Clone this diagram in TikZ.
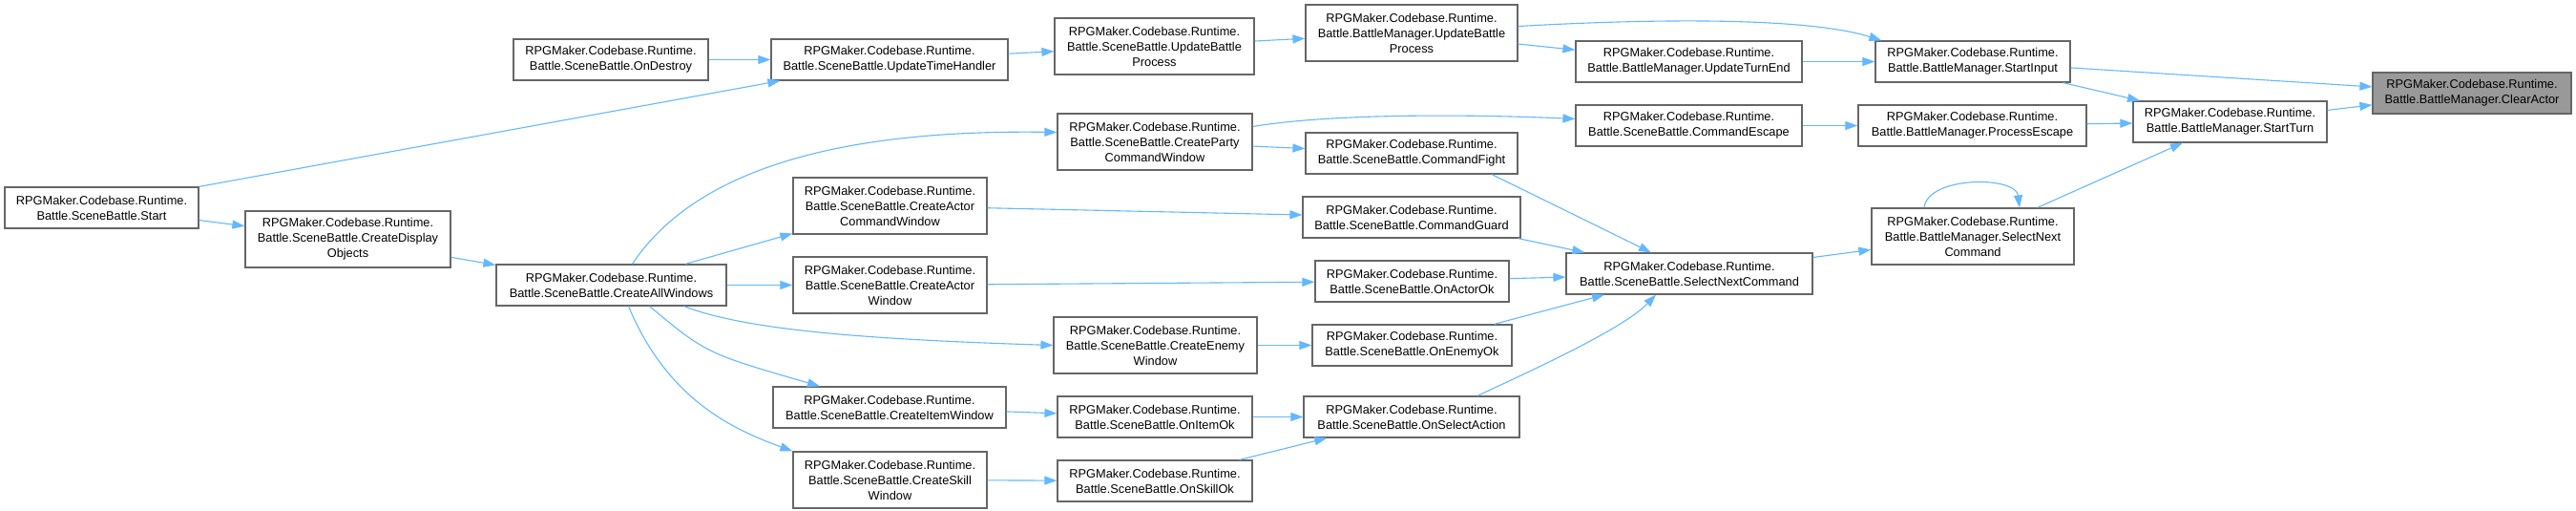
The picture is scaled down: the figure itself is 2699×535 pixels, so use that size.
\documentclass[tikz,border=0pt]{standalone}
\usepackage{fontspec}
\setmainfont{Liberation Sans}
\usetikzlibrary{arrows.meta,positioning}
\definecolor{edgeblue}{HTML}{63B8FF}
\definecolor{boxgray}{HTML}{666666}
\definecolor{rootgray}{HTML}{999999}

\begin{document}
\begin{tikzpicture}[x=1pt, y=-1pt,
    fn/.style={draw=boxgray, line width=1.2pt, fill=white, rectangle, inner sep=0pt,
        align=center, minimum height=43pt, font=\fontsize{12.8}{16}\selectfont},
    fn3/.style={fn, minimum height=59pt},
    rootfn/.style={fn, fill=rootgray},
    calledge/.style={-{Triangle[length=13pt,width=9pt]}, draw=edgeblue, line width=1.1pt}]
    \useasboundingbox (0,0) rectangle (2699,535);

    % Column 1
    \node[fn, minimum width=203pt] (start) at (106.5,217.5) {RPGMaker.Codebase.Runtime.\\Battle.SceneBattle.Start};

    % Column 2
    \node[fn3, minimum width=215pt] (displayobj) at (364.5,250.5) {RPGMaker.Codebase.Runtime.\\Battle.SceneBattle.CreateDisplay\\Objects};

    % Column 3
    \node[fn, minimum width=204pt] (ondestroy) at (640,62.5) {RPGMaker.Codebase.Runtime.\\Battle.SceneBattle.OnDestroy};
    \node[fn, minimum width=241pt] (allwindows) at (640.5,298.5) {RPGMaker.Codebase.Runtime.\\Battle.SceneBattle.CreateAllWindows};

    % Column 4
    \node[fn, minimum width=248pt] (timehandler) at (932,62.5) {RPGMaker.Codebase.Runtime.\\Battle.SceneBattle.UpdateTimeHandler};
    \node[fn3, minimum width=203pt] (actorcmdwin) at (932.5,215.5) {RPGMaker.Codebase.Runtime.\\Battle.SceneBattle.CreateActor\\CommandWindow};
    \node[fn3, minimum width=203pt] (actorwin) at (932.5,298.5) {RPGMaker.Codebase.Runtime.\\Battle.SceneBattle.CreateActor\\Window};
    \node[fn, minimum width=244pt] (itemwin) at (932,426.5) {RPGMaker.Codebase.Runtime.\\Battle.SceneBattle.CreateItemWindow};
    \node[fn3, minimum width=203pt] (skillwin) at (932.5,502.5) {RPGMaker.Codebase.Runtime.\\Battle.SceneBattle.CreateSkill\\Window};

    % Column 5
    \node[fn3, minimum width=209pt] (sbupdbattle) at (1209.5,48.5) {RPGMaker.Codebase.Runtime.\\Battle.SceneBattle.UpdateBattle\\Process};
    \node[fn3, minimum width=204pt] (partywin) at (1210,148.5) {RPGMaker.Codebase.Runtime.\\Battle.SceneBattle.CreateParty\\CommandWindow};
    \node[fn3, minimum width=213pt] (enemywin) at (1210.5,361.5) {RPGMaker.Codebase.Runtime.\\Battle.SceneBattle.CreateEnemy\\Window};
    \node[fn, minimum width=204pt] (itemok) at (1210,436.5) {RPGMaker.Codebase.Runtime.\\Battle.SceneBattle.OnItemOk};
    \node[fn, minimum width=204pt] (skillok) at (1210,503.5) {RPGMaker.Codebase.Runtime.\\Battle.SceneBattle.OnSkillOk};

    % Column 6
    \node[fn3, minimum width=222pt] (bmupdbattle) at (1479,34.5) {RPGMaker.Codebase.Runtime.\\Battle.BattleManager.UpdateBattle\\Process};
    \node[fn, minimum width=222pt] (cmdfight) at (1479,160.5) {RPGMaker.Codebase.Runtime.\\Battle.SceneBattle.CommandFight};
    \node[fn, minimum width=228pt] (cmdguard) at (1479,227.5) {RPGMaker.Codebase.Runtime.\\Battle.SceneBattle.CommandGuard};
    \node[fn, minimum width=203pt] (actorok) at (1479.5,294.5) {RPGMaker.Codebase.Runtime.\\Battle.SceneBattle.OnActorOk};
    \node[fn, minimum width=209pt] (enemyok) at (1479.5,361.5) {RPGMaker.Codebase.Runtime.\\Battle.SceneBattle.OnEnemyOk};
    \node[fn, minimum width=226pt] (selaction) at (1479,436.5) {RPGMaker.Codebase.Runtime.\\Battle.SceneBattle.OnSelectAction};

    % Column 7
    \node[fn, minimum width=237pt] (updturnend) at (1769.5,64.5) {RPGMaker.Codebase.Runtime.\\Battle.BattleManager.UpdateTurnEnd};
    \node[fn, minimum width=237pt] (cmdescape) at (1769.5,131.5) {RPGMaker.Codebase.Runtime.\\Battle.SceneBattle.CommandEscape};
    \node[fn, minimum width=258pt] (sbselnext) at (1770,286.5) {RPGMaker.Codebase.Runtime.\\Battle.SceneBattle.SelectNextCommand};

    % Column 8
    \node[fn, minimum width=204pt] (startinput) at (2067,64.5) {RPGMaker.Codebase.Runtime.\\Battle.BattleManager.StartInput};
    \node[fn, minimum width=239pt] (processescape) at (2066.5,131.5) {RPGMaker.Codebase.Runtime.\\Battle.BattleManager.ProcessEscape};
    \node[fn3, minimum width=212pt] (bmselnext) at (2067,247.5) {RPGMaker.Codebase.Runtime.\\Battle.BattleManager.SelectNext\\Command};

    % Column 9 and root
    \node[fn, minimum width=203pt] (startturn) at (2336.5,127.5) {RPGMaker.Codebase.Runtime.\\Battle.BattleManager.StartTurn};
    \node[rootfn, minimum width=208pt] (clearactor) at (2590,97.5) {RPGMaker.Codebase.Runtime.\\Battle.BattleManager.ClearActor};

    % Calls
    \draw[calledge] (ondestroy) -- (timehandler);
    \draw[calledge] (start.north east) -- ([xshift=10pt]timehandler.south west);
    \draw[calledge] (start) -- (displayobj);
    \draw[calledge] (displayobj) -- (allwindows);
    \draw[calledge] (timehandler) -- (sbupdbattle);
    \draw[calledge] (sbupdbattle) -- (bmupdbattle);
    \draw[calledge] ([yshift=7pt]bmupdbattle.east) .. controls (1760,18) and (1900,20) .. ([xshift=7pt]startinput.north west);
    \draw[calledge] (bmupdbattle) -- (updturnend);
    \draw[calledge] (updturnend) -- (startinput);
    \draw[calledge] (startinput) -- (clearactor);
    \draw[calledge] (startinput) -- (startturn);
    \draw[calledge] (startturn) -- (clearactor);
    \draw[calledge] (cmdescape) -- (processescape);
    \draw[calledge] (processescape) -- (startturn);
    \draw[calledge] (bmselnext) -- (startturn);
    \draw[calledge] ([xshift=-51pt]bmselnext.north) .. controls (2020,184) and (2112,184) .. ([xshift=49pt]bmselnext.north);
    \draw[calledge] (sbselnext) -- (bmselnext);
    \draw[calledge] ([xshift=22pt]allwindows.north) .. controls (720,190) and (850,135) .. ([yshift=10pt]partywin.west);
    \draw[calledge] (allwindows) -- (actorcmdwin);
    \draw[calledge] (allwindows) -- (actorwin);
    \draw[calledge] ([xshift=-45pt]allwindows.south east) .. controls (780,345) and (900,355) .. (enemywin.west);
    \draw[calledge] ([xshift=40pt]allwindows.south) .. controls (740,370) .. ([xshift=-73pt]itemwin.north);
    \draw[calledge] ([xshift=18pt]allwindows.south) .. controls (700,420) and (770,450) .. (skillwin.north west);
    \draw[calledge] ([yshift=16pt]partywin.east) .. controls (1400,118) and (1550,120) .. ([yshift=7pt]cmdescape.west);
    \draw[calledge] (partywin) -- (cmdfight);
    \draw[calledge] (actorcmdwin) -- (cmdguard);
    \draw[calledge] (actorwin) -- (actorok);
    \draw[calledge] (enemywin) -- (enemyok);
    \draw[calledge] (itemwin) -- (itemok);
    \draw[calledge] (skillwin) -- (skillok);
    \draw[calledge] (itemok) -- (selaction);
    \draw[calledge] (skillok) -- (selaction);
    \draw[calledge] ([xshift=84pt]cmdfight.south) -- ([xshift=-40pt]sbselnext.north);
    \draw[calledge] ([xshift=-3pt]cmdguard.south east) -- ([xshift=20pt]sbselnext.north west);
    \draw[calledge] (actorok) -- (sbselnext);
    \draw[calledge] ([xshift=86pt]enemyok.north) -- ([xshift=-89pt]sbselnext.south);
    \draw[calledge] ([xshift=69pt]selaction.north) .. controls (1600,390) and (1700,345) .. ([xshift=-35pt]sbselnext.south);
\end{tikzpicture}
\end{document}
